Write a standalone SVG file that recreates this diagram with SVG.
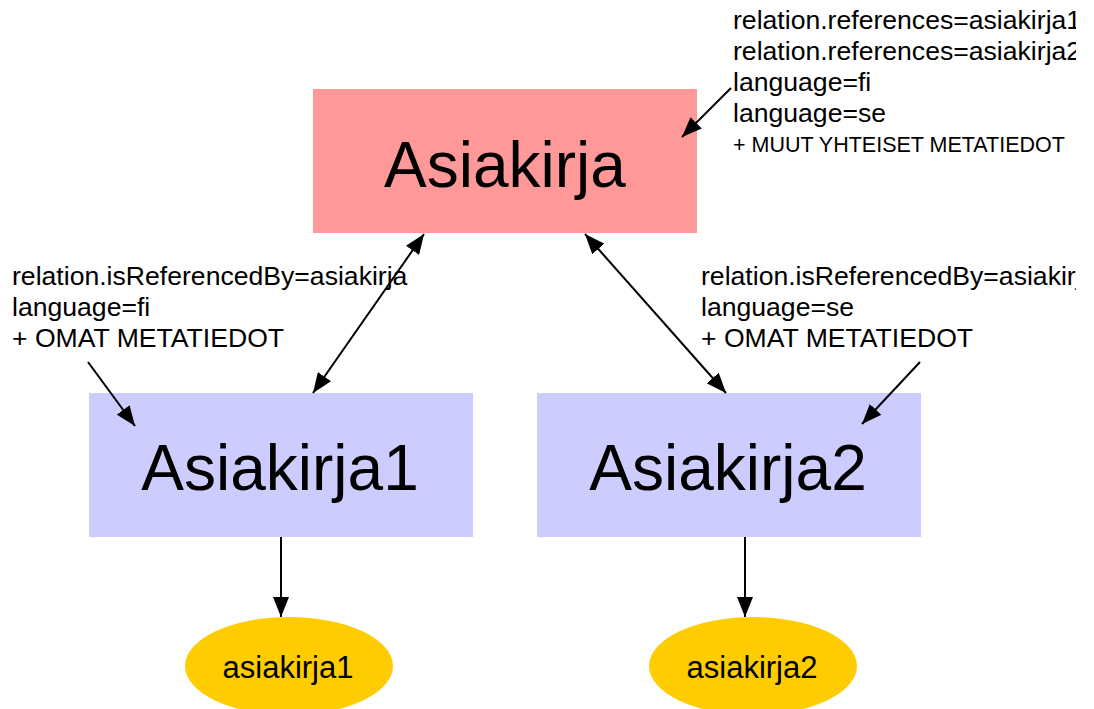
<svg xmlns="http://www.w3.org/2000/svg" width="1094" height="709" viewBox="0 0 1094 709">
<style>
.t{font-family:"Liberation Sans",Arial,sans-serif;fill:#000}
.lbl{font-size:26.6px}
.big{font-size:64px;text-anchor:middle}
.ell{font-size:31px;text-anchor:middle}
.ln{stroke:#000;stroke-width:2;fill:none}
</style>
<defs>
<marker id="ah" viewBox="0 0 20 16" refX="20" refY="8" markerWidth="20" markerHeight="16" markerUnits="userSpaceOnUse" orient="auto-start-reverse">
<path d="M0,0 L20,8 L0,16 z" fill="#000"/>
</marker>
<clipPath id="clip"><rect x="0" y="0" width="1076" height="709"/></clipPath>
</defs>
<rect width="1094" height="709" fill="#fff"/>
<g id="node-asiakirja">
<rect x="313" y="89" width="384" height="144" fill="#FF9999"/>
<text class="t big" x="505" y="187">Asiakirja</text>
</g>
<g id="node-asiakirja1">
<rect x="89" y="393" width="384" height="144" fill="#CCCCFF"/>
<text class="t big" x="280" y="490">Asiakirja1</text>
</g>
<g id="node-asiakirja2">
<rect x="537" y="393" width="384" height="144" fill="#CCCCFF"/>
<text class="t big" x="728" y="490">Asiakirja2</text>
</g>
<g id="node-file1">
<ellipse cx="289" cy="666" rx="104" ry="49" fill="#FFCC00"/>
<text class="t ell" x="288" y="678">asiakirja1</text>
</g>
<g id="node-file2">
<ellipse cx="753" cy="666" rx="104" ry="49" fill="#FFCC00"/>
<text class="t ell" x="752" y="678">asiakirja2</text>
</g>
<g id="label-top" clip-path="url(#clip)">
<text class="t lbl" x="733" y="29">relation.references=asiakirja1</text>
<text class="t lbl" x="733" y="60">relation.references=asiakirja2</text>
<text class="t lbl" x="733" y="91">language=fi</text>
<text class="t lbl" x="733" y="122">language=se</text>
<text class="t" x="733" y="152" font-size="21.5">+ MUUT YHTEISET METATIEDOT</text>
</g>
<g id="label-left">
<text class="t lbl" x="12" y="285">relation.isReferencedBy=asiakirja</text>
<text class="t lbl" x="12" y="316">language=fi</text>
<text class="t lbl" x="12" y="347">+ OMAT METATIEDOT</text>
</g>
<g id="label-right" clip-path="url(#clip)">
<text class="t lbl" x="701" y="285">relation.isReferencedBy=asiakirja</text>
<text class="t lbl" x="701" y="316">language=se</text>
<text class="t lbl" x="701" y="347">+ OMAT METATIEDOT</text>
</g>
<g id="connectors">
<line class="ln" x1="424" y1="234" x2="313" y2="393" marker-start="url(#ah)" marker-end="url(#ah)"/>
<line class="ln" x1="585" y1="234" x2="726" y2="393" marker-start="url(#ah)" marker-end="url(#ah)"/>
<line class="ln" x1="281" y1="537" x2="281" y2="617" marker-end="url(#ah)"/>
<line class="ln" x1="745" y1="537" x2="745" y2="617" marker-end="url(#ah)"/>
<line class="ln" x1="731" y1="88" x2="682" y2="137" marker-end="url(#ah)"/>
<line class="ln" x1="88" y1="362" x2="135" y2="426" marker-end="url(#ah)"/>
<line class="ln" x1="920" y1="362" x2="862" y2="424" marker-end="url(#ah)"/>
</g>
</svg>
